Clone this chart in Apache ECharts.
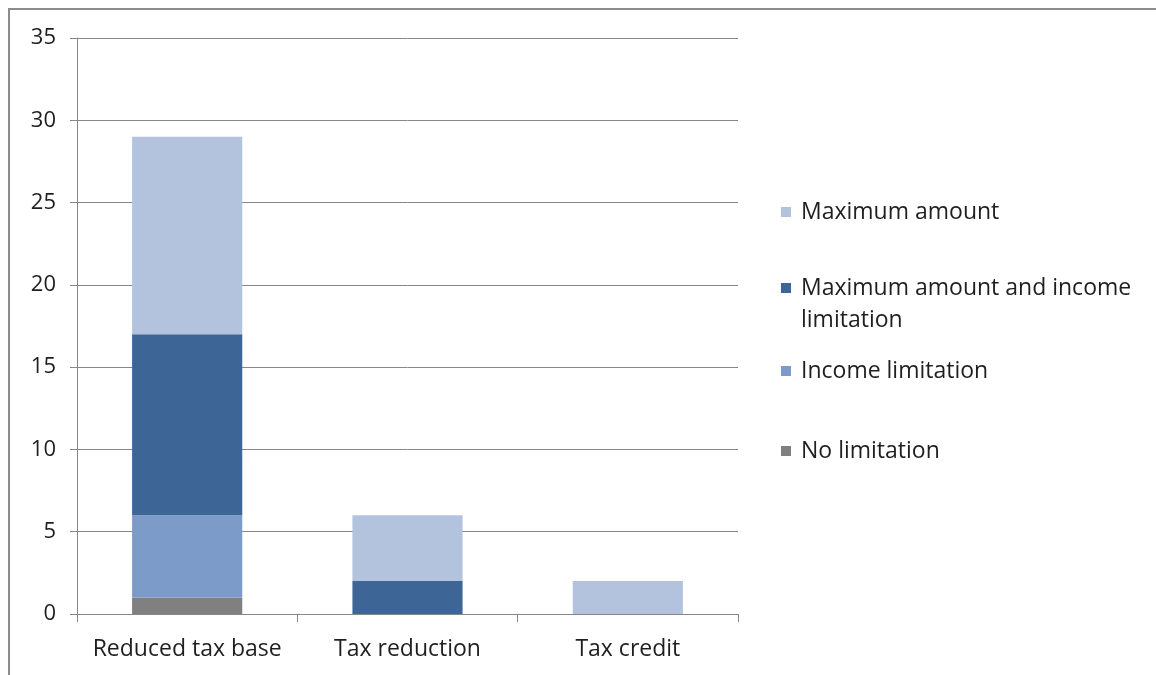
<!DOCTYPE html>
<html>
<head>
<meta charset="utf-8">
<script src="https://cdn.jsdelivr.net/npm/echarts@6/dist/echarts.min.js"></script>
<style>
  html, body { margin: 0; padding: 0; background: #ffffff; }
  #chart { width: 1156px; height: 675px; }
</style>
</head>
<body>
<div id="chart"></div>
<script>
// Categories and stacked values per limitation type
const categories = ['Reduced tax base', 'Tax reduction', 'Tax credit'];
const noLimitation = [1, 0, 0];
const incomeLimitation = [5, 0, 0];
const maxAmountAndIncome = [11, 2, 0];
const maxAmount = [12, 4, 2];
const yTicks = { min: 0, max: 35, interval: 5 };

const FONT = 'Open Sans';
const TEXT = '#1f1f1f';
const GRID = '#878787';

const seriesDefs = [
  { name: 'No limitation', data: noLimitation, color: '#808080' },
  { name: 'Income limitation', data: incomeLimitation, color: '#7d9bc8' },
  { name: 'Maximum amount and income limitation', data: maxAmountAndIncome, color: '#3d6596' },
  { name: 'Maximum amount', data: maxAmount, color: '#b3c3de' }
];

function legendAt(name, top, formatter) {
  const cfg = {
    show: true,
    data: [name],
    left: 781,
    top: top,
    padding: 0,
    orient: 'vertical',
    icon: 'rect',
    itemWidth: 10,
    itemHeight: 10,
    itemGap: 0,
    selectedMode: false,
    textStyle: { fontFamily: FONT, fontSize: 23, color: TEXT, lineHeight: 32, padding: [0, 0, 0, 5] }
  };
  if (formatter) cfg.formatter = formatter;
  return cfg;
}

const chart = echarts.init(document.getElementById('chart'), null, { renderer: 'canvas' });
chart.setOption({
  backgroundColor: '#ffffff',
  animation: false,
  grid: { left: 77, right: 418, top: 38, bottom: 61, containLabel: false },
  graphic: [{
    type: 'rect',
    shape: { x: 9, y: 9, width: 1200, height: 700 },
    style: { fill: 'none', stroke: '#8c8c8c', lineWidth: 2 },
    silent: true
  }],
  legend: [
    legendAt('Maximum amount', 196),
    // leading empty line keeps the marker beside the first text line
    legendAt('Maximum amount and income limitation', 240, function () {
      return '\nMaximum amount and income\nlimitation';
    }),
    legendAt('Income limitation', 355),
    legendAt('No limitation', 435)
  ],
  xAxis: {
    type: 'category',
    data: categories,
    axisLine: { show: true, lineStyle: { color: GRID, width: 1 } },
    axisTick: { show: true, length: 8, interval: 0, alignWithLabel: false, lineStyle: { color: GRID } },
    axisLabel: { fontFamily: FONT, fontSize: 23, color: TEXT, margin: 24, interval: 0, hideOverlap: false }
  },
  yAxis: {
    type: 'value',
    min: yTicks.min,
    max: yTicks.max,
    interval: yTicks.interval,
    axisLine: { show: true, lineStyle: { color: GRID, width: 1 } },
    axisTick: { show: true, length: 7, lineStyle: { color: GRID } },
    axisLabel: { fontFamily: FONT, fontSize: 22, color: TEXT, margin: 21 },
    splitLine: { show: true, lineStyle: { color: GRID, width: 1 } }
  },
  series: seriesDefs.map(function (s) {
    return {
      name: s.name,
      type: 'bar',
      stack: 'total',
      data: s.data,
      barWidth: '50%',
      itemStyle: { color: s.color },
      emphasis: { disabled: true }
    };
  })
});
</script>
</body>
</html>
